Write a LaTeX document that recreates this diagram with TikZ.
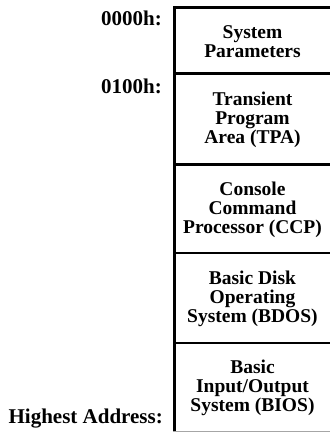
\documentclass[tikz,border=0pt]{standalone}
\usepackage{fontspec}
\setmainfont{Liberation Serif}
\begin{document}
\begin{tikzpicture}[x=1pt,y=-1pt,
  frameline/.style={line width=2.8pt, line cap=rect},
  boxtext/.style={align=center, inner sep=0pt, font=\bfseries\fontsize{19.5}{19}\selectfont},
  addr/.style={anchor=base east, inner sep=0pt, font=\bfseries\fontsize{21}{22}\selectfont}]
\useasboundingbox (0,0) rectangle (330,432);
% frame and dividers
\draw[frameline] (340,7.5) -- (174.5,7.5) -- (174.5,440);
\draw[frameline] (174.5,73.5) -- (340,73.5);
\draw[frameline] (174.5,164.5) -- (340,164.5);
\draw[frameline] (174.5,253) -- (340,253);
\draw[frameline] (174.5,343) -- (340,343);
\draw[frameline, black!35] (174.5,432.6) -- (340,432.6);
% section texts
\node[boxtext] (sp) at (252.5,41.5) {System\\Parameters};
\node[boxtext] (tpa) at (252.5,120) {Transient\\Program\\Area (TPA)};
\node[boxtext] (ccp) at (252.5,209.5) {Console\\Command\\Processor (CCP)};
\node[boxtext] (bdos) at (252.5,299) {Basic Disk\\Operating\\System (BDOS)};
\node[boxtext] (bios) at (252.5,388) {Basic\\Input/Output\\System (BIOS)};
% address labels
\node[addr] (a0) at (162,25) {0000h:};
\node[addr] (a1) at (162,93.5) {0100h:};
\node[addr] (ah) at (163,423.5) {Highest Address:};
\end{tikzpicture}
\end{document}
